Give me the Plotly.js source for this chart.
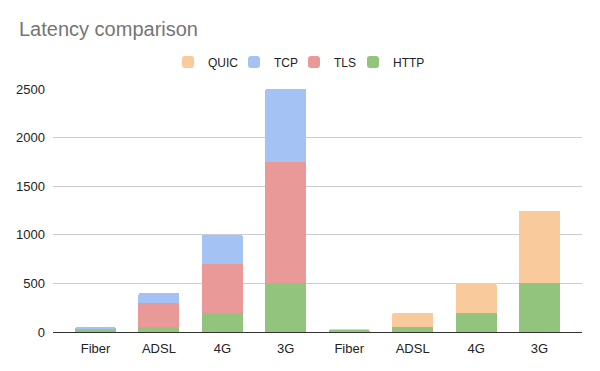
<!DOCTYPE html>
<html>
<head>
<meta charset="utf-8">
<script src="https://cdn.plot.ly/plotly-3.0.1.min.js"></script>
<style>html,body{margin:0;padding:0;background:#fff;}#chart{width:600px;height:371px;}</style>
</head>
<body>
<div id="chart"></div>
<script>
const categories = ['Fiber', 'ADSL', '4G', '3G', 'Fiber', 'ADSL', '4G', '3G'];
const httpValues = [20, 50, 200, 500, 20, 50, 200, 500];
const tlsValues  = [10, 250, 500, 1250, 0, 0, 0, 0];
const tcpValues  = [20, 100, 300, 750, 0, 0, 0, 0];
const quicValues = [0, 0, 0, 0, 10, 150, 300, 750];
const yTicks = [0, 500, 1000, 1500, 2000, 2500];

const positions = categories.map((c, i) => i);
function bar(name, values, color, legendId) {
  return {type: 'bar', name: name, x: positions, y: values, legend: legendId,
    marker: {color: color, line: {width: 0}}, hoverinfo: 'skip'};
}
const data = [
  bar('HTTP', httpValues, '#93c47d', 'legend4'),
  bar('TLS', tlsValues, '#ea9999', 'legend3'),
  bar('TCP', tcpValues, '#a4c2f4', 'legend2'),
  bar('QUIC', quicValues, '#f9cb9c', 'legend')
];
function leg(swatchCenterPx) {
  return {orientation: 'h', x: (swatchCenterPx - 21) / 600, xanchor: 'left', xref: 'container',
    y: 0.872, yref: 'container', yanchor: 'top', bgcolor: 'rgba(0,0,0,0)',
    font: {family: 'Arial, "Liberation Sans", sans-serif', size: 12, color: '#222'}};
}
const layout = {
  width: 600, height: 371,
  margin: {l: 53, r: 18, t: 88.5, b: 39, pad: 0},
  paper_bgcolor: '#fff', plot_bgcolor: '#fff',
  font: {family: 'Arial, "Liberation Sans", sans-serif', size: 13, color: '#222'},
  title: {text: 'Latency comparison', x: 0, xref: 'container', xanchor: 'left', y: 1, yref: 'container', yanchor: 'top',
    pad: {l: 19, t: 22},
    font: {family: 'Arial, "Liberation Sans", sans-serif', size: 20, color: '#757575'}},
  barmode: 'stack', bargap: 0.354, barcornerradius: 2,
  showlegend: true,
  legend: leg(189), legend2: leg(255), legend3: leg(315), legend4: leg(374),
  xaxis: {range: [-0.67, 7.67], tickmode: 'array', tickvals: positions, ticktext: categories,
    showgrid: false, zeroline: false, showline: true, linecolor: '#333', linewidth: 1,
    ticks: '', ticklabelstandoff: 4, fixedrange: true},
  yaxis: {range: [0, 2500], tickmode: 'array', tickvals: yTicks, ticktext: yTicks.map(String),
    showgrid: true, gridcolor: '#cccccc', gridwidth: 1, zeroline: true, zerolinecolor: '#333', zerolinewidth: 1,
    showline: false, ticks: '', ticklabelstandoff: 7, fixedrange: true}
};
Plotly.newPlot('chart', data, layout, {displayModeBar: false, staticPlot: true});
</script>
</body>
</html>
